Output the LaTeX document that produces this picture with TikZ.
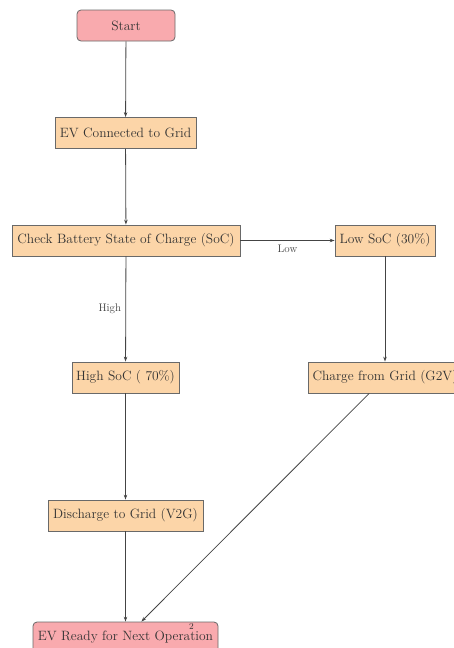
\documentclass[tikz,border=0pt]{standalone}
\usetikzlibrary{arrows.meta}
\definecolor{peach}{HTML}{FCD5A8}
\definecolor{pinkbox}{HTML}{F9AAAE}
\definecolor{edgegray}{HTML}{444444}
\tikzset{
  proc/.style={draw=edgegray!80, fill=peach, line width=0.8pt, minimum height=31pt, inner sep=0pt, font=\fontsize{13.5}{16}\selectfont, text=black!80},
  term/.style={proc, fill=pinkbox, rounded corners=4pt},
  conn/.style={draw=edgegray, line width=0.8pt, -{Stealth[length=5pt,width=3.5pt]}},
  elab/.style={font=\fontsize{11}{13}\selectfont, text=black!75},
}
\begin{document}
\begin{tikzpicture}[x=1pt,y=-1pt]
\useasboundingbox (0,0) rectangle (454,648);
\clip (0,0) rectangle (454,648);
\node[term, minimum width=98pt] (start) at (126,25.5) {Start};
\node[proc, minimum width=141pt] (conn) at (125.5,133) {EV Connected to Grid};
\node[proc, minimum width=228pt] (check) at (126,240.5) {Check Battery State of Charge (SoC)};
\node[proc, minimum width=100pt] (low) at (385,240.5) {Low SoC (30\%)};
\node[proc, minimum width=107pt] (high) at (125.5,377.5) {High SoC ( 70\%)};
\node[proc, minimum width=154pt] (charge) at (385,377.5) {Charge from Grid (G2V)};
\node[proc, minimum width=155pt] (dis) at (125.5,515.5) {Discharge to Grid (V2G)};
\node[term, minimum width=185pt] (ready) at (125.5,637.5) {EV Ready for Next Operation};
\node[font=\fontsize{9}{10}\selectfont, text=black!80] (pg) at (191.5,626) {2};
\draw[conn] (start) -- (conn);
\draw[conn] (conn) -- (check);
\draw[conn] (check) -- node[elab, below=1pt] (lowlab) {Low} (low);
\draw[conn] (check) -- node[elab, left=1pt] (highlab) {High} (high);
\draw[conn] (low) -- (charge);
\draw[conn] (high) -- (dis);
\draw[conn] (dis) -- (ready);
\draw[conn] (charge) -- (ready);
\end{tikzpicture}
\end{document}
